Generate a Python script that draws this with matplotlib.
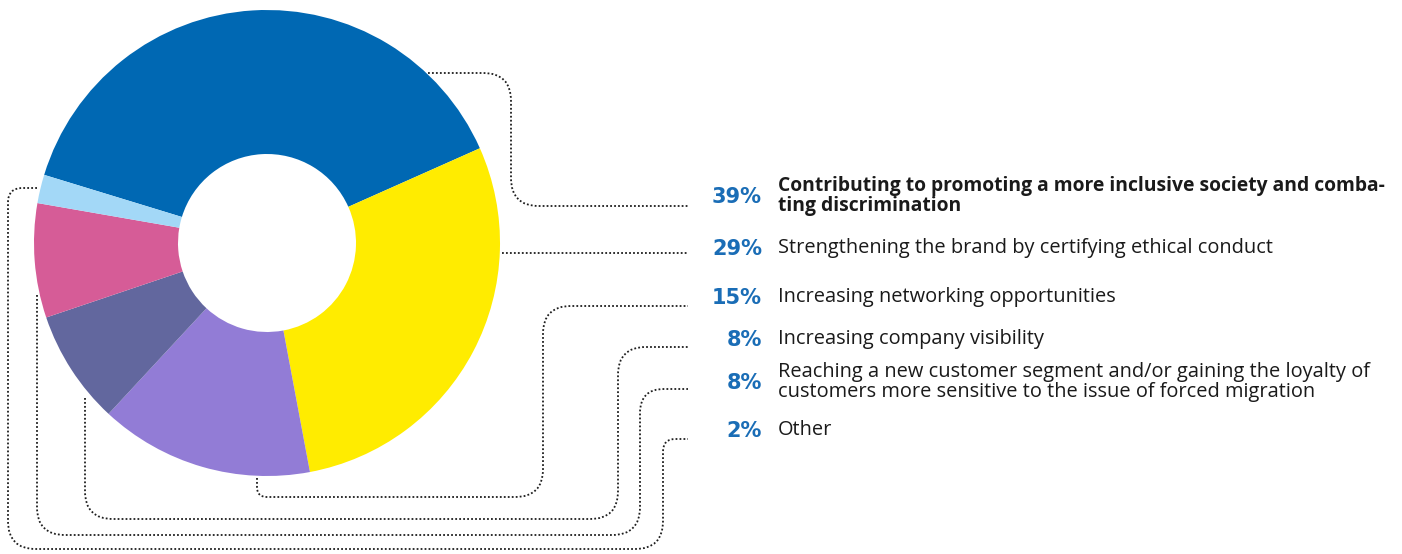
"""Donut chart of motivations with dotted leader lines to a labelled list."""
import matplotlib

matplotlib.use("Agg")

import matplotlib.pyplot as plt
import numpy as np
from matplotlib.patches import PathPatch
from matplotlib.path import Path

DPI = 100
WIDTH_PX, HEIGHT_PX = 1402, 554

# slices, clockwise from the top-left
shares = [39, 29, 15, 8, 8, 2]
labels = [
    "Contributing to promoting a more inclusive society and comba-\nting discrimination",
    "Strengthening the brand by certifying ethical conduct",
    "Increasing networking opportunities",
    "Increasing company visibility",
    "Reaching a new customer segment and/or gaining the loyalty of\ncustomers more sensitive to the issue of forced migration",
    "Other",
]
colors = ["#0068B3", "#FFEC00", "#927CD6", "#62679E", "#D65C97", "#A3D8F7"]
PCT_COLOR = "#1A6DB6"

CENTER = (267, 243)
R_OUTER, R_INNER = 233, 89
START = 163  # screen angle of the first slice edge, degrees

# row centres of the labels (pixels from top)
ROW_Y = [196, 248, 297, 339, 382, 430]
PCT_X, TEXT_X = 762, 778

# leader routes (corner points, pixels)
LEADERS = [
    [(428, 73), (511, 73), (511, 206), (688, 206)],
    [(502, 253), (688, 253)],
    [(257, 478), (257, 497), (543, 497), (543, 306), (688, 306)],
    [(85, 398), (85, 519), (618, 519), (618, 347), (688, 347)],
    [(37, 295), (37, 535), (640, 535), (640, 389), (688, 389)],
    [(37, 188), (8, 188), (8, 549), (663, 549), (663, 439), (688, 439)],
]


def rounded_path(points, radius=28):
    """Polyline with quadratic-curve rounded corners."""
    pts = [np.asarray(p, float) for p in points]
    verts, codes = [pts[0]], [Path.MOVETO]
    for a, p, b in zip(pts, pts[1:], pts[2:]):
        la, lb = np.linalg.norm(a - p), np.linalg.norm(b - p)
        r = min(radius, la / 2, lb / 2)
        verts += [p + (a - p) / la * r, p, p + (b - p) / lb * r]
        codes += [Path.LINETO, Path.CURVE3, Path.CURVE3]
    verts.append(pts[-1])
    codes.append(Path.LINETO)
    return Path(verts, codes)


fig = plt.figure(figsize=(WIDTH_PX / DPI, HEIGHT_PX / DPI), dpi=DPI)
ax = fig.add_axes([0, 0, 1, 1])

# y axis runs downward, so data angles are mirrored on screen
ax.pie(
    shares,
    colors=colors,
    radius=R_OUTER,
    center=CENTER,
    startangle=-START,
    counterclock=True,
    wedgeprops=dict(width=R_OUTER - R_INNER, edgecolor="none", linewidth=0),
)

for route in LEADERS:
    ax.add_patch(PathPatch(
        rounded_path(route), facecolor="none", edgecolor="#1E1E1E",
        linewidth=1.3, linestyle=(0, (1, 1.2)),
    ))

for i, (share, label, y) in enumerate(zip(shares, labels, ROW_Y)):
    ax.text(PCT_X, y + 1, f"{share}%", ha="right", va="center",
            fontsize=15, fontweight="bold", color=PCT_COLOR, family="DejaVu Sans")
    # the first item is the headline reason and is set in bold
    bold = i == 0
    ax.text(TEXT_X, y, label, ha="left", va="center",
            fontsize=13.9 if bold else 14.4,
            fontweight="bold" if bold else "normal", color="#1A1A1A",
            family="Open Sans", linespacing=1.05)

ax.set_xlim(0, WIDTH_PX)
ax.set_ylim(HEIGHT_PX, 0)
ax.set_aspect("equal")
ax.axis("off")

fig.savefig("out.png", dpi=DPI, facecolor="white")
plt.close(fig)
